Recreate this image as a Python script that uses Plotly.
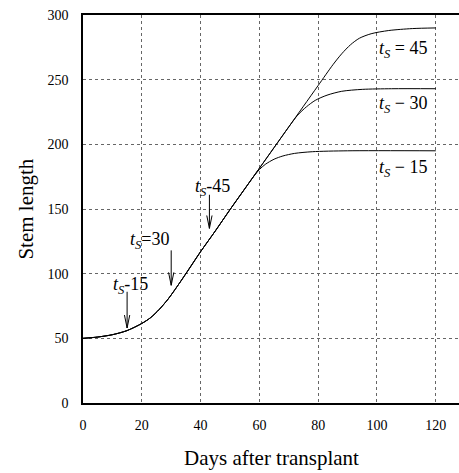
import plotly.graph_objects as go

# ---- data ----
days_base = [0, 5, 10, 15, 20, 23, 26, 29, 32, 35, 40, 45, 50, 55]
len_base = [50, 51, 52.8, 56, 61.5, 66, 72.5, 80.5, 90, 100, 117, 133, 149.5, 165.5]

b15_x = [55, 58, 60, 62, 65, 68, 72, 78, 90, 120]
b15_y = [165.5, 175, 180.5, 184.5, 188.5, 191, 193, 194.3, 195, 195]
b30_x = [55, 60, 65, 70, 73, 76, 79, 83, 88, 95, 105, 120]
b30_y = [165.5, 181.5, 197.5, 213.5, 222.5, 229, 234, 238, 241, 242.5, 243, 243]
b45_x = [55, 60, 65, 70, 75, 80, 85, 88, 91, 94, 98, 104, 112, 120]
b45_y = [165.5, 181.5, 197.5, 213.5, 229.5, 245.5, 261.5, 270, 277, 282, 285.5, 288, 289.5, 290]

arrow_x = [15, 30, 43]
arrow_top = [86, 118, 161]
arrow_tip = [58, 91, 135]
left_labels = ["<i>t<sub>S</sub></i>-15", "<i>t<sub>S</sub></i>=30", "<i>t<sub>S</sub></i>-45"]
left_lab_x = [16, 22.5, 44]
left_lab_y = [91, 126, 167]

right_labels = ["<i>t<sub>S</sub></i> = 45", "<i>t<sub>S</sub></i> − 30", "<i>t<sub>S</sub></i> − 15"]
right_lab_y = [273, 231, 181]
right_lab_x = 109

x_ticks = [0, 20, 40, 60, 80, 100, 120]
y_ticks = [0, 50, 100, 150, 200, 250, 300]

FONT = "Liberation Serif"
fig = go.Figure()

line = dict(color="black", width=1.0, shape="spline", smoothing=0.8)
for bx, by in [(b15_x, b15_y), (b30_x, b30_y), (b45_x, b45_y)]:
    fig.add_trace(go.Scatter(x=days_base + bx[1:], y=len_base + by[1:],
                             mode="lines", line=line))

# arrows (open V heads)
ax, ay = [], []
for x, t, p in zip(arrow_x, arrow_top, arrow_tip):
    ax += [x, x, None, x - 0.9, x, x + 0.9, None]
    ay += [t, p, None, p + 10, p, p + 10, None]
fig.add_trace(go.Scatter(x=ax, y=ay, mode="lines", line=dict(color="black", width=1)))

for t, x, y in zip(left_labels, left_lab_x, left_lab_y):
    fig.add_annotation(x=x, y=y, text=t, showarrow=False,
                       font=dict(family=FONT, size=18, color="black"))
for t, y in zip(right_labels, right_lab_y):
    fig.add_annotation(x=right_lab_x, y=y, text=t, showarrow=False,
                       font=dict(family=FONT, size=18, color="black"))

fig.add_annotation(xref="paper", yref="paper", x=0.5, y=-0.142, yanchor="middle",
                   text="Days after transplant", showarrow=False,
                   font=dict(family=FONT, size=21, color="black"))
fig.add_annotation(xref="paper", yref="paper", x=-0.19, y=0.5, textangle=-90,
                   text="Stem length", showarrow=False,
                   font=dict(family=FONT, size=21, color="black"))

fig.update_layout(
    width=459, height=473,
    margin=dict(l=83, r=0, t=15, b=70),
    paper_bgcolor="white", plot_bgcolor="white",
    showlegend=False,
    font=dict(family=FONT, size=14, color="black"),
    xaxis=dict(range=[0, 127.9], tickvals=x_ticks, showgrid=True, gridcolor="#666",
               griddash="dot", gridwidth=1, zeroline=False, showline=True,
               linecolor="black", linewidth=1.5, mirror=True, ticks="",
               ticklabelstandoff=8),
    yaxis=dict(range=[0, 300], tickvals=y_ticks, showgrid=True, gridcolor="#666",
               griddash="dot", gridwidth=1, zeroline=False, showline=True,
               linecolor="black", linewidth=1.5, ticks="", ticklabelstandoff=10),
)

fig.write_html("out.html")
